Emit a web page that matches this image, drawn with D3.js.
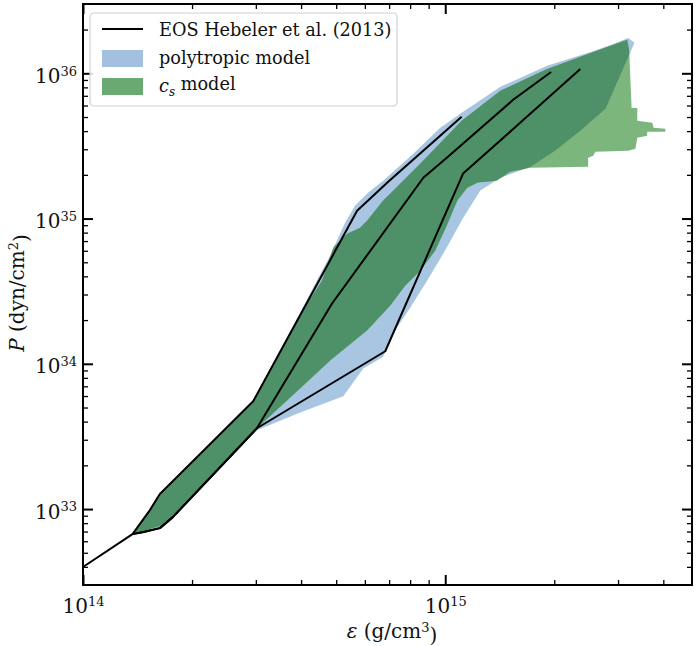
<!DOCTYPE html>
<html>
<head>
<meta charset="utf-8">
<script src="https://cdn.jsdelivr.net/npm/d3@7"></script>
<style>
  body { margin: 0; background: #fff; }
  text { font-family: "DejaVu Serif", serif; fill: #111; }
</style>
</head>
<body>
<div id="wrapper"></div>
<script>
// energy density (g/cm^3), pressure (dyn/cm^2)
const crust = [[1.00e14, 3.99e32], [1.37e14, 6.72e32]];

const hebelerStiff = [
  [1.37e14, 6.72e32], [1.53e14, 9.83e32], [1.63e14, 1.27e33], [2.95e14, 5.52e33],
  [5.71e14, 1.13e35], [6.96e14, 1.79e35], [1.11e15, 5.02e35]
];
const hebelerInter = [
  [1.37e14, 6.72e32], [1.47e14, 6.94e32], [1.63e14, 7.39e32], [1.77e14, 8.80e32],
  [3.02e14, 3.60e33], [4.87e14, 2.60e34], [8.70e14, 1.91e35], [1.01e15, 2.62e35],
  [1.54e15, 6.57e35], [1.96e15, 1.02e36]
];
const hebelerSoft = [
  [1.37e14, 6.72e32], [1.47e14, 6.94e32], [1.63e14, 7.39e32], [1.77e14, 8.80e32],
  [3.02e14, 3.60e33], [6.83e14, 1.22e34], [1.12e15, 2.04e35], [1.61e15, 4.56e35],
  [2.36e15, 1.07e36]
];

// outline of the polytropic band
const polytropicBand = [
  [1.37e14, 6.72e32], [1.53e14, 9.83e32], [1.63e14, 1.27e33], [2.95e14, 5.61e33],
  [3.98e14, 2.26e34], [4.81e14, 5.56e34], [5.29e14, 9.37e34], [5.64e14, 1.23e35],
  [6.13e14, 1.51e35], [6.74e14, 1.82e35], [8.16e14, 2.79e35], [9.69e14, 4.22e35],
  [1.11e15, 5.35e35], [1.42e15, 8.07e35], [1.91e15, 1.125e36], [2.52e15, 1.40e36],
  [2.91e15, 1.59e36], [3.20e15, 1.75e36], [3.33e15, 1.62e36], [2.77e15, 5.69e35],
  [2.36e15, 4.02e35], [2.01e15, 2.93e35], [1.72e15, 2.27e35], [1.42e15, 1.91e35],
  [1.25e15, 1.56e35], [1.12e15, 1.01e35], [1.01e15, 6.31e34], [8.92e14, 3.74e34],
  [8.01e14, 2.44e34], [7.19e14, 1.62e34], [6.74e14, 1.12e34], [5.94e14, 9.30e33],
  [5.23e14, 5.97e33], [3.98e14, 4.63e33], [3.02e14, 3.49e33], [1.77e14, 8.66e32],
  [1.63e14, 7.39e32], [1.47e14, 6.94e32]
];

// outline of the speed-of-sound band
const csBand = [
  [1.37e14, 6.72e32], [1.53e14, 9.83e32], [1.63e14, 1.27e33], [2.95e14, 5.52e33],
  [3.98e14, 2.19e34], [4.57e14, 3.74e34], [4.91e14, 6.31e34], [5.36e14, 7.87e34],
  [5.82e14, 8.66e34], [6.09e14, 9.68e34], [6.74e14, 1.33e35], [7.19e14, 1.56e35],
  [8.53e14, 2.38e35], [1.11e15, 4.71e35], [1.42e15, 7.57e35], [1.91e15, 1.07e36],
  [2.52e15, 1.38e36], [3.18e15, 1.70e36], [3.22e15, 1.43e36], [3.27e15, 5.78e35],
  [3.39e15, 5.78e35], [3.39e15, 4.71e35], [3.73e15, 4.56e35], [3.76e15, 4.22e35],
  [4.05e15, 4.15e35], [4.05e15, 3.96e35], [3.61e15, 3.96e35], [3.61e15, 3.71e35],
  [3.39e15, 3.60e35], [3.35e15, 3.02e35], [3.20e15, 2.93e35], [2.60e15, 2.88e35],
  [2.56e15, 2.71e35], [2.48e15, 2.62e35], [2.48e15, 2.27e35], [1.72e15, 2.24e35],
  [1.51e15, 2.10e35], [1.39e15, 1.82e35], [1.23e15, 1.77e35], [1.15e15, 1.63e35],
  [1.08e15, 1.33e35], [1.01e15, 8.94e34], [9.38e14, 6.01e34], [8.53e14, 4.38e34],
  [7.76e14, 3.46e34], [7.05e14, 2.52e34], [6.09e14, 1.70e34], [4.81e14, 1.055e34],
  [3.98e14, 6.78e33], [3.02e14, 3.60e33], [1.77e14, 8.80e32], [1.63e14, 7.63e32],
  [1.47e14, 7.05e32]
];

const xMajor = [1e14, 1e15];
const xMinor = [2e14, 3e14, 4e14, 5e14, 6e14, 7e14, 8e14, 9e14, 2e15, 3e15, 4e15];
const yMajor = [1e33, 1e34, 1e35, 1e36];
const yMinor = [4e32, 5e32, 6e32, 7e32, 8e32, 9e32,
  2e33, 3e33, 4e33, 5e33, 6e33, 7e33, 8e33, 9e33,
  2e34, 3e34, 4e34, 5e34, 6e34, 7e34, 8e34, 9e34,
  2e35, 3e35, 4e35, 5e35, 6e35, 7e35, 8e35, 9e35,
  2e36];

const legendItems = ["EOS Hebeler et al. (2013)", "polytropic model", "model"];

const colors = {
  poly: "#a8c5e1",
  cs: "#7db67d",
  both: "#4e9168",
  legendPoly: "#a3c1de",
  legendCs: "#6aaa72"
};

let dimensions = {
  width: 698,
  height: 646,
  margin: { top: 4, right: 6, bottom: 61, left: 83 }
};
dimensions.boundedWidth = dimensions.width - dimensions.margin.left - dimensions.margin.right;
dimensions.boundedHeight = dimensions.height - dimensions.margin.top - dimensions.margin.bottom;

const svg = d3.select("#wrapper").append("svg")
  .attr("width", dimensions.width)
  .attr("height", dimensions.height);

const g = svg.append("g")
  .attr("transform", `translate(${dimensions.margin.left},${dimensions.margin.top})`);

const xScale = d3.scaleLog()
  .domain([1e14, 4.8e15])
  .range([0, dimensions.boundedWidth]);
const yScale = d3.scaleLog()
  .domain([3e32, 3e36])
  .range([dimensions.boundedHeight, 0]);

const lineGen = d3.line().x(d => xScale(d[0])).y(d => yScale(d[1]));
const shape = pts => lineGen(pts) + "Z";

// bands: blue first, green on top, darker where they overlap
g.append("clipPath").attr("id", "polyClip")
  .append("path").attr("d", shape(polytropicBand));

g.append("path").attr("d", shape(polytropicBand)).attr("fill", colors.poly);
g.append("path").attr("d", shape(csBand)).attr("fill", colors.cs);
g.append("path").attr("d", shape(csBand)).attr("fill", colors.both)
  .attr("clip-path", "url(#polyClip)");

[crust, hebelerStiff, hebelerInter, hebelerSoft].forEach(l => {
  g.append("path")
    .attr("d", lineGen(l))
    .attr("fill", "none")
    .attr("stroke", "#000")
    .attr("stroke-width", 2)
    .attr("stroke-linejoin", "round");
});

// axes, ticks pointing inward on all four sides
function supLabels(sel) {
  sel.selectAll(".tick text").each(function(d) {
    const t = d3.select(this);
    t.text("10");
    t.append("tspan")
      .attr("dy", "-0.55em")
      .attr("font-size", "13px")
      .text(Math.round(Math.log10(d)));
  });
}
function styleAxis(sel, width) {
  sel.select(".domain").remove();
  sel.selectAll(".tick line").attr("stroke", "#000").attr("stroke-width", width);
}

const bw = dimensions.boundedWidth, bh = dimensions.boundedHeight;

const xAxisMajor = g.append("g").attr("transform", `translate(0,${bh})`)
  .call(d3.axisBottom(xScale).tickValues(xMajor).tickSize(-10).tickPadding(14))
  .attr("font-size", 20).attr("font-family", null);
styleAxis(xAxisMajor, 2);
supLabels(xAxisMajor);
const xAxisMinor = g.append("g").attr("transform", `translate(0,${bh})`)
  .call(d3.axisBottom(xScale).tickValues(xMinor).tickSize(-5).tickFormat(""));
styleAxis(xAxisMinor, 1.3);

const xTopMajor = g.append("g")
  .call(d3.axisTop(xScale).tickValues(xMajor).tickSize(-10).tickFormat(""));
styleAxis(xTopMajor, 2);
const xTopMinor = g.append("g")
  .call(d3.axisTop(xScale).tickValues(xMinor).tickSize(-5).tickFormat(""));
styleAxis(xTopMinor, 1.3);

const yAxisMajor = g.append("g")
  .call(d3.axisLeft(yScale).tickValues(yMajor).tickSize(-10).tickPadding(6))
  .attr("font-size", 20).attr("font-family", null);
styleAxis(yAxisMajor, 2);
supLabels(yAxisMajor);
yAxisMajor.selectAll(".tick text").attr("dy", "0.45em");
const yAxisMinor = g.append("g")
  .call(d3.axisLeft(yScale).tickValues(yMinor).tickSize(-5).tickFormat(""));
styleAxis(yAxisMinor, 1.3);

const yRightMajor = g.append("g").attr("transform", `translate(${bw},0)`)
  .call(d3.axisRight(yScale).tickValues(yMajor).tickSize(-10).tickFormat(""));
styleAxis(yRightMajor, 2);
const yRightMinor = g.append("g").attr("transform", `translate(${bw},0)`)
  .call(d3.axisRight(yScale).tickValues(yMinor).tickSize(-5).tickFormat(""));
styleAxis(yRightMinor, 1.3);

g.append("rect")
  .attr("width", bw).attr("height", bh)
  .attr("fill", "none").attr("stroke", "#000").attr("stroke-width", 2);

// axis titles
const yTitle = svg.append("text")
  .attr("transform", "translate(24,293) rotate(-90)")
  .attr("text-anchor", "middle")
  .attr("font-size", 20);
yTitle.append("tspan").attr("font-style", "italic").text("P");
yTitle.append("tspan").text(" (dyn/cm");
yTitle.append("tspan").attr("dy", "-0.5em").attr("font-size", "13px").text("2");
yTitle.append("tspan").attr("dy", "0.5em").text(")");

const xTitle = svg.append("text")
  .attr("x", 392).attr("y", 638)
  .attr("text-anchor", "middle")
  .attr("font-size", 20);
xTitle.append("tspan").attr("font-style", "italic").text("ε");
xTitle.append("tspan").text(" (g/cm");
xTitle.append("tspan").attr("dy", "-0.5em").attr("font-size", "13px").text("3");
xTitle.append("tspan").attr("dy", "0.5em").text(")");

// legend
const legend = svg.append("g").attr("transform", "translate(90,13)");
legend.append("rect")
  .attr("width", 307).attr("height", 93).attr("rx", 4)
  .attr("fill", "#fff").attr("fill-opacity", 0.85)
  .attr("stroke", "#d0d0d0").attr("stroke-width", 1.2);
legend.append("line")
  .attr("x1", 12).attr("x2", 53).attr("y1", 16).attr("y2", 16)
  .attr("stroke", "#000").attr("stroke-width", 2.2);
legend.append("rect").attr("x", 12).attr("y", 37).attr("width", 41).attr("height", 17)
  .attr("fill", colors.legendPoly);
legend.append("rect").attr("x", 12).attr("y", 65).attr("width", 41).attr("height", 17)
  .attr("fill", colors.legendCs);
const legendFont = 17.7;
legend.append("text").attr("x", 69).attr("y", 23).attr("font-size", legendFont).text(legendItems[0]);
legend.append("text").attr("x", 69).attr("y", 51).attr("font-size", legendFont).text(legendItems[1]);
const csLabel = legend.append("text").attr("x", 69).attr("y", 79).attr("font-size", legendFont);
csLabel.append("tspan").attr("font-style", "italic").text("c");
csLabel.append("tspan").attr("font-style", "italic").attr("font-size", "12px").attr("dy", "0.3em").text("s");
csLabel.append("tspan").attr("dy", "-0.3em").text(" " + legendItems[2]);
</script>
</body>
</html>
